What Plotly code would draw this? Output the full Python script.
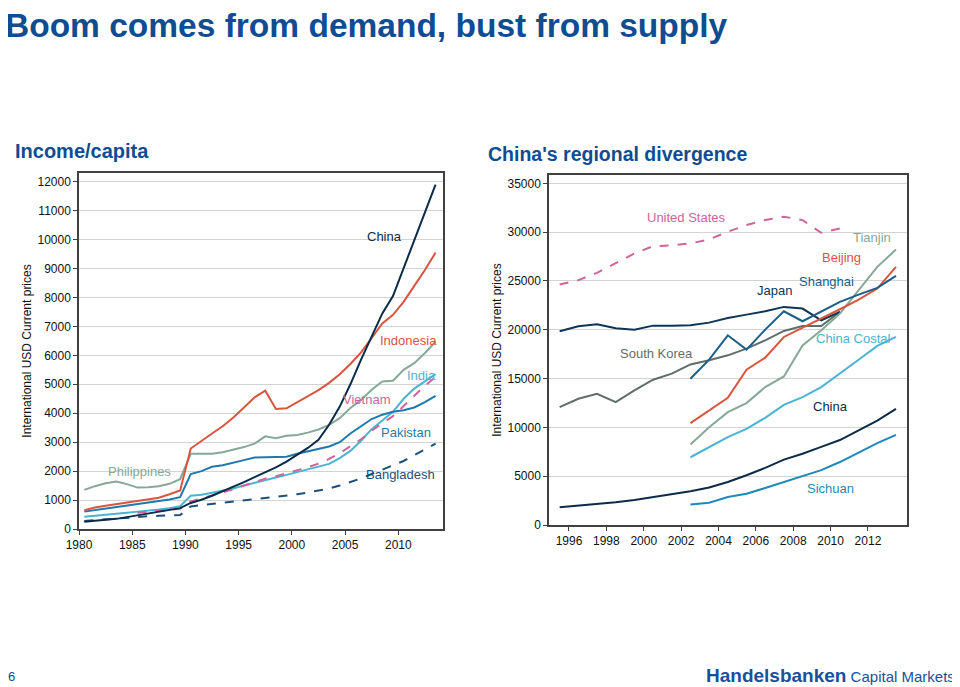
import plotly.graph_objects as go

# ---------------- Left chart: Income/capita ----------------
years_left = list(range(1980, 2014))
china_l = [250, 275, 310, 350, 410, 470, 530, 590, 650, 720, 900, 1010, 1150, 1300, 1460, 1620, 1790, 1960,
           2130, 2330, 2570, 2800, 3080, 3600, 4230, 5000, 5850, 6650, 7450, 8050, 9000, 9950, 10900, 11900]
indonesia = [650, 740, 800, 860, 920, 970, 1020, 1080, 1200, 1330, 2780, 3050, 3300, 3550, 3850, 4200, 4550, 4780,
             4150, 4170, 4380, 4600, 4800, 5050, 5350, 5700, 6100, 6600, 7100, 7400, 7850, 8400, 8950, 9550]
philippines = [1350, 1480, 1580, 1640, 1550, 1430, 1440, 1480, 1560, 1720, 2600, 2600, 2600, 2650, 2730, 2830, 2950, 3200,
               3140, 3220, 3250, 3330, 3440, 3600, 3830, 4180, 4460, 4810, 5100, 5120, 5500, 5730, 6080, 6470]
pakistan = [600, 650, 700, 750, 800, 850, 900, 950, 1020, 1100, 1900, 2000, 2150, 2200, 2300, 2380, 2470, 2480,
            2480, 2500, 2600, 2680, 2750, 2850, 3000, 3300, 3550, 3800, 3950, 4050, 4100, 4200, 4380, 4600]
india = [420, 450, 490, 530, 560, 600, 630, 670, 720, 790, 1150, 1180, 1250, 1320, 1400, 1500, 1600, 1700,
         1780, 1870, 1960, 2050, 2150, 2250, 2450, 2700, 3050, 3450, 3750, 4050, 4500, 4850, 5100, 5350]
vietnam = [None, None, None, None, None, 560, 590, 620, 660, 700, 950, 1050, 1150, 1250, 1370, 1500, 1630, 1740,
           1820, 1920, 2020, 2130, 2260, 2420, 2620, 2850, 3100, 3400, 3650, 3900, 4250, 4600, 4950, 5250]
bangladesh = [280, 310, 340, 370, 400, 420, 440, 455, 470, 480, 780, 820, 860, 900, 940, 980, 1020, 1060,
              1100, 1150, 1200, 1260, 1330, 1400, 1500, 1620, 1750, 1900, 2050, 2200, 2350, 2550, 2750, 2950]
left_tick_years = [1980, 1985, 1990, 1995, 2000, 2005, 2010]

# ---------------- Right chart: China's regional divergence ----------------
years_right = list(range(1995, 2014))
years_region = list(range(2002, 2014))
years_oecd = list(range(1995, 2011))
united_states = [24630, 25080, 25830, 26790, 27810, 28560, 28630, 28840, 29250, 30040, 30720, 31230, 31580,
                 31230, 29930, 30380]
japan = [19840, 20350, 20560, 20150, 20010, 20420, 20420, 20460, 20730, 21210, 21550, 21890, 22340, 22170,
         20970, 21830]
south_korea = [12080, 12930, 13440, 12590, 13790, 14880, 15500, 16450, 16870, 17380, 18060, 18920, 19880,
               20390, 20390, 21830]
shanghai = [14980, 16930, 19430, 17960, 20010, 21890, 20870, 21830, 22850, 23600, 24290, 25520]
beijing = [10430, 11730, 13030, 15900, 17140, 19260, 20180, 21140, 22100, 23090, 24220, 26440]
tianjin = [8240, 10020, 11560, 12490, 14130, 15220, 18400, 19940, 21650, 24050, 26440, 28220]
china_costal = [6940, 7970, 9000, 9850, 10980, 12300, 13100, 14130, 15500, 16930, 18340, 19260]
china_r = [1830, 1980, 2140, 2320, 2550, 2830, 3120, 3450, 3850, 4400, 5100, 5850, 6700, 7300, 8000, 8700,
           9700, 10700, 11900]
sichuan = [2100, 2280, 2860, 3200, 3790, 4410, 5030, 5620, 6450, 7450, 8380, 9240]
right_tick_years = [1996, 1998, 2000, 2002, 2004, 2006, 2008, 2010, 2012]

# ---------------- Styling ----------------
FONT = "Liberation Sans, Arial, sans-serif"
C_NAVY = "#0C2B48"
C_RED = "#D8553E"
C_GREEN = "#86A898"
C_BLUE = "#1F78AE"
C_LIGHT = "#4AB4D0"
C_PINK = "#D0649A"
C_DBLUE = "#1F4E79"
C_JAPAN = "#0E3556"
C_SHANG = "#1B5E8A"
C_KOREA = "#5E6E6B"
C_SICH = "#1F88B8"
TITLE_BLUE = "#0F4C92"

# page body has an 8px margin; size the figure so it fits the 960x687 window
OFF = 8
W, H = 960 - OFF, 687 - OFF


def px(xp):
    return (xp - OFF) / W


def py(yp):
    return 1 - (yp - OFF) / H


fig = go.Figure()


def add_line(x, y, color, axis, dash="solid"):
    xa, ya = axis
    fig.add_trace(go.Scatter(x=x, y=y, mode="lines", xaxis=xa, yaxis=ya,
                             line=dict(color=color, width=2, dash=dash),
                             connectgaps=False, hoverinfo="skip", showlegend=False))


L = ("x", "y")
R = ("x2", "y2")
add_line(years_left, bangladesh, C_DBLUE, L, "dash")
add_line(years_left, philippines, C_GREEN, L)
add_line(years_left, india, C_LIGHT, L)
add_line(years_left, vietnam, C_PINK, L, "dash")
add_line(years_left, pakistan, C_BLUE, L)
add_line(years_left, indonesia, C_RED, L)
add_line(years_left, china_l, C_NAVY, L)

add_line(years_oecd, united_states, C_PINK, R, "dash")
add_line(years_oecd, south_korea, C_KOREA, R)
add_line(years_oecd, japan, C_JAPAN, R)
add_line(years_region, tianjin, C_GREEN, R)
add_line(years_region, china_costal, C_LIGHT, R)
add_line(years_region, beijing, C_RED, R)
add_line(years_region, shanghai, C_SHANG, R)
add_line(years_right, china_r, C_NAVY, R)
add_line(years_region, sichuan, C_SICH, R)

axis_common = dict(showline=True, linecolor="#404040", linewidth=1.5, mirror=True,
                   ticks="outside", tickcolor="#404040", ticklen=4, automargin=False,
                   tickfont=dict(family=FONT, size=12, color="#111111"), zeroline=False)
ytitle = dict(text="International USD Current prices", font=dict(family=FONT, size=12, color="#111111"),
              standoff=3)

fig.update_layout(
    width=W, height=H,
    margin=dict(l=0, r=0, t=0, b=0),
    paper_bgcolor="white", plot_bgcolor="white",
    font=dict(family=FONT),
    xaxis=dict(domain=[px(79), px(443)], range=[1979.5, 2013.7],
               tickvals=[y - 0.5 for y in left_tick_years], ticktext=[str(y) for y in left_tick_years],
               showgrid=False, anchor="y", **axis_common),
    yaxis=dict(domain=[py(529), py(173)], range=[0, 12300], dtick=1000, tickformat="d",
               showgrid=True, gridcolor="#D3D3D3", gridwidth=1.2, anchor="x",
               title=ytitle, **axis_common),
    xaxis2=dict(domain=[px(549), px(907)], range=[1994.43, 2013.59],
                tickvals=[y - 0.5 for y in right_tick_years], ticktext=[str(y) for y in right_tick_years],
                showgrid=False, anchor="y2", **axis_common),
    yaxis2=dict(domain=[py(525), py(175)], range=[0, 35850], dtick=5000, tickformat="d",
                showgrid=True, gridcolor="#D3D3D3", gridwidth=1.2, anchor="x2",
                title=ytitle, **axis_common),
)

# series labels
left_labels = [
    ("China", 2008.2, 10090, C_NAVY),
    ("Indonesia", 2010.5, 6500, C_RED),
    ("India", 2011.7, 5320, C_LIGHT),
    ("Vietnam", 2006.5, 4490, C_PINK),
    ("Pakistan", 2010.2, 3320, C_BLUE),
    ("Philippines", 1985.2, 2000, C_GREEN),
    ("Bangladesh", 2009.7, 1870, C_DBLUE),
]
for text, x, y, c in left_labels:
    fig.add_annotation(x=x, y=y, xref="x", yref="y", text=text, showarrow=False,
                       font=dict(family=FONT, size=13, color=c))

right_labels = [
    ("United States", 2001.8, 31450, C_PINK),
    ("Tianjin", 2011.7, 29400, C_GREEN),
    ("Beijing", 2010.07, 27350, C_RED),
    ("Shanghai", 2009.3, 24990, C_SHANG),
    ("Japan", 2006.5, 24060, C_JAPAN),
    ("China Costal", 2010.7, 19130, C_LIGHT),
    ("South Korea", 2000.2, 17590, C_KOREA),
    ("China", 2009.5, 12150, C_NAVY),
    ("Sichuan", 2009.5, 3730, C_SICH),
]
for text, x, y, c in right_labels:
    fig.add_annotation(x=x, y=y, xref="x2", yref="y2", text=text, showarrow=False,
                       font=dict(family=FONT, size=13, color=c))

# titles and footer
fig.add_annotation(x=px(4), y=1, xref="paper", yref="paper", xanchor="left", yanchor="top",
                   text="<b>Boom comes from demand, bust from supply</b>", showarrow=False,
                   borderpad=0, yshift=2,
                   font=dict(family=FONT, size=33.5, color=TITLE_BLUE))
fig.add_annotation(x=px(13), y=py(151), xref="paper", yref="paper", xanchor="left", yanchor="middle",
                   text="<b>Income/capita</b>", showarrow=False,
                   font=dict(family=FONT, size=20, color=TITLE_BLUE))
fig.add_annotation(x=px(486), y=py(154), xref="paper", yref="paper", xanchor="left", yanchor="middle",
                   text="<b>China's regional divergence</b>", showarrow=False,
                   font=dict(family=FONT, size=19.5, color=TITLE_BLUE))
fig.add_annotation(x=px(6), y=py(676), xref="paper", yref="paper", xanchor="left", yanchor="middle",
                   text="6", showarrow=False, font=dict(family=FONT, size=13, color=TITLE_BLUE))
fig.add_annotation(x=px(957), y=py(675), xref="paper", yref="paper", xanchor="right", yanchor="middle",
                   text="<b><span style='font-size:19px'>Handelsbanken</span></b> "
                        "<span style='font-size:15px'>Capital Markets</span>",
                   showarrow=False, font=dict(family=FONT, size=15, color="#1B4F9C"))

fig.write_html("out.html")
